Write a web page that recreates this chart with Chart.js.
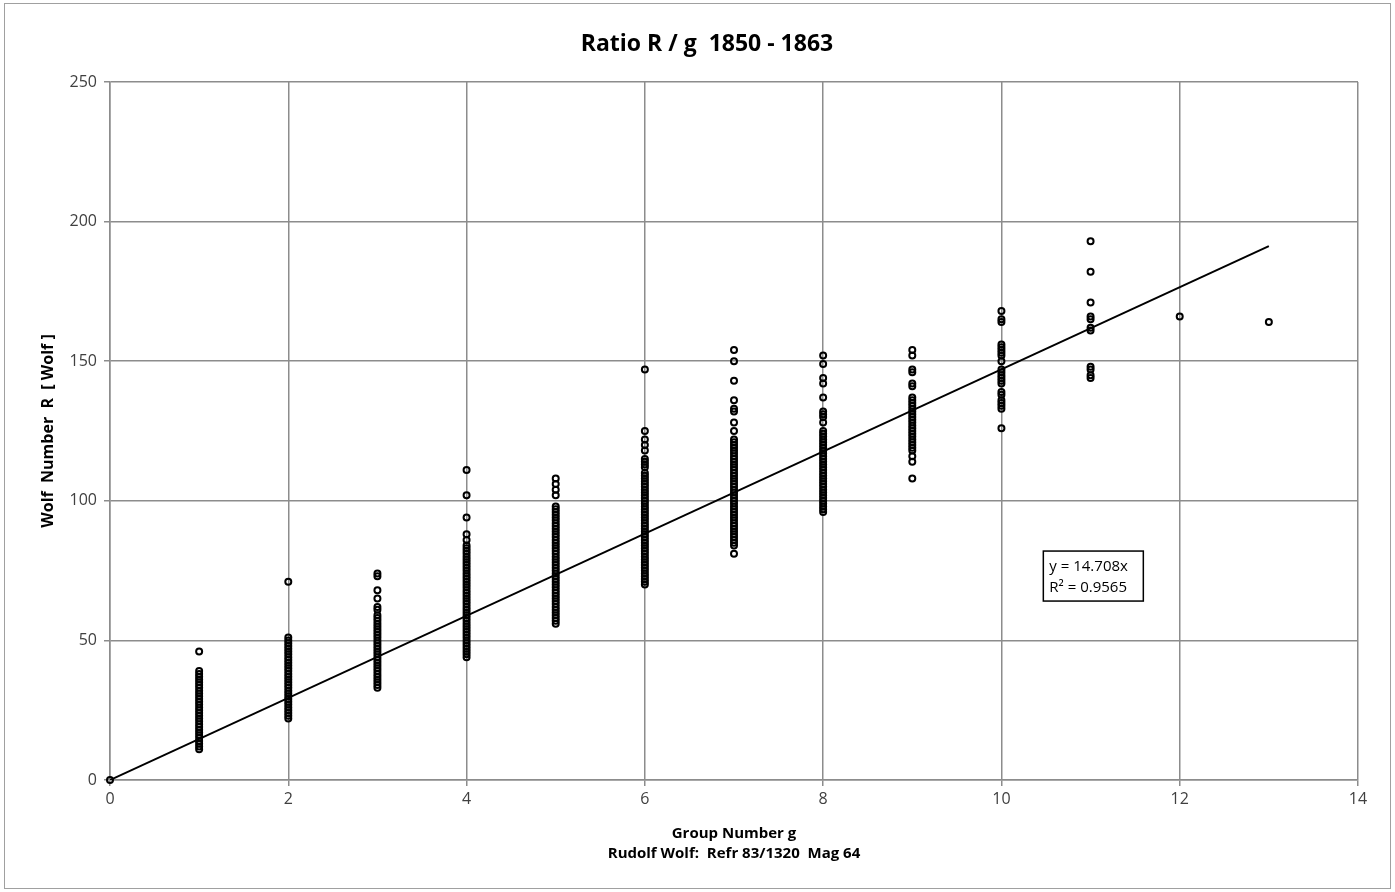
<!DOCTYPE html>
<html>
<head>
<meta charset="utf-8">
<script src="https://cdn.jsdelivr.net/npm/chart.js@4"></script>
<style>
    html, body { margin: 0; padding: 0; background: #fff; }
    #wrap { width: 1395px; height: 892px; }
</style>
</head>
<body>
<div id="wrap"><canvas id="ratioChart" width="1395" height="892"></canvas></div>
<script>
const g0 = [0];
const g1 = [46, 39, 38, 37, 36, 35, 34, 33, 32, 31, 30, 29, 28, 27, 26, 25, 24, 23, 22, 21, 20, 19, 18, 17, 16, 15, 14, 13, 12, 11];
const g2 = [71, 51, 50, 49, 48, 47, 46, 45, 44, 43, 42, 41, 40, 39, 38, 37, 36, 35, 34, 33, 32, 31, 30, 29, 28, 27, 26, 25, 24, 23, 22];
const g3 = [74, 73, 68, 65, 62, 61, 59, 58, 57, 56, 55, 54, 53, 52, 51, 50, 49, 48, 47, 46, 45, 44, 43, 42, 41, 40, 39, 38, 37, 36, 35, 34, 33];
const g4 = [111, 102, 94, 88, 86, 84, 83, 82, 81, 80, 79, 78, 77, 76, 75, 74, 73, 72, 71, 70, 69, 68, 67, 66, 65, 64, 63, 62, 61, 60, 59, 58, 57, 56, 55, 54, 53, 52, 51, 50, 49, 48, 47, 46, 45, 44];
const g5 = [108, 106, 104, 102, 98, 97, 96, 95, 94, 93, 92, 91, 90, 89, 88, 87, 86, 85, 84, 83, 82, 81, 80, 79, 78, 77, 76, 75, 74, 73, 72, 71, 70, 69, 68, 67, 66, 65, 64, 63, 62, 61, 60, 59, 58, 57, 56];
const g6 = [147, 125, 122, 120, 118, 115, 114, 113, 112, 110, 109, 108, 107, 106, 105, 104, 103, 102, 101, 100, 99, 98, 97, 96, 95, 94, 93, 92, 91, 90, 89, 88, 87, 86, 85, 84, 83, 82, 81, 80, 79, 78, 77, 76, 75, 74, 73, 72, 71, 70];
const g7 = [154, 150, 143, 136, 133, 132, 128, 125, 122, 121, 120, 119, 118, 117, 116, 115, 114, 113, 112, 111, 110, 109, 108, 107, 106, 105, 104, 103, 102, 101, 100, 99, 98, 97, 96, 95, 94, 93, 92, 91, 90, 89, 88, 87, 86, 85, 84, 81];
const g8 = [152, 149, 144, 142, 137, 132, 131, 130, 128, 125, 124, 123, 122, 121, 120, 119, 118, 117, 116, 115, 114, 113, 112, 111, 110, 109, 108, 107, 106, 105, 104, 103, 102, 101, 100, 99, 98, 97, 96];
const g9 = [154, 152, 147, 146, 142, 141, 137, 136, 135, 134, 133, 132, 131, 130, 129, 128, 127, 126, 125, 124, 123, 122, 121, 120, 119, 118, 116, 114, 108];
const g10 = [168, 165, 164, 156, 155, 154, 153, 152, 150, 147, 146, 145, 144, 143, 142, 139, 138, 136, 135, 134, 133, 126];
const g11 = [193, 182, 171, 166, 165, 162, 161, 148, 147, 145, 144];
const g12 = [166];
const g13 = [164];

const groups = [g0, g1, g2, g3, g4, g5, g6, g7, g8, g9, g10, g11, g12, g13];

// linear trendline through origin (y = 14.708x), end points as drawn
const trendX = [0, 13];
const trendY = [0, 191.2];

const xTicks = [0, 2, 4, 6, 8, 10, 12, 14];
const yTicks = [0, 50, 100, 150, 200, 250];

const FONT = '"Open Sans", "Noto Sans", sans-serif';

const points = [];
groups.forEach(function(vals, g) {
    vals.forEach(function(v) { points.push({ x: g, y: v }); });
});
const trend = trendX.map(function(x, i) { return { x: x, y: trendY[i] }; });

// frame, title and equation box
const extras = {
    id: 'extras',
    beforeDraw(chart) {
        const ctx = chart.ctx;
        ctx.save();
        ctx.fillStyle = '#fff';
        ctx.fillRect(0, 0, chart.width, chart.height);
        ctx.strokeStyle = '#a0a0a0';
        ctx.lineWidth = 1;
        ctx.strokeRect(4.5, 3.5, chart.width - 9, chart.height - 7);
        ctx.fillStyle = '#000';
        ctx.font = 'bold 23px ' + FONT;
        ctx.textAlign = 'center';
        ctx.textBaseline = 'middle';
        ctx.fillText('Ratio R / g  1850 - 1863', 707, 44);
        ctx.restore();
    },
    afterDraw(chart) {
        const ctx = chart.ctx;
        const xs = chart.scales.x, ys = chart.scales.y;
        const left = xs.getPixelForValue(10.47);
        const top = ys.getPixelForValue(82);
        ctx.save();
        ctx.fillStyle = '#fff';
        ctx.fillRect(left, top, 100, 50);
        ctx.strokeStyle = '#000';
        ctx.lineWidth = 1.5;
        ctx.strokeRect(left, top, 100, 50);
        ctx.fillStyle = '#000';
        ctx.font = '15px ' + FONT;
        ctx.textBaseline = 'middle';
        ctx.textAlign = 'left';
        ctx.fillText('y = 14.708x', left + 6, top + 16);
        ctx.fillText('R\u00B2 = 0.9565', left + 6, top + 37);
        ctx.restore();
    }
};

const ctx = document.getElementById('ratioChart').getContext('2d');
new Chart(ctx, {
    type: 'scatter',
    data: {
        datasets: [{
            label: 'R',
            data: points,
            pointStyle: 'circle',
            pointRadius: 3,
            pointBorderWidth: 2,
            borderColor: '#000',
            backgroundColor: 'rgba(255,255,255,0)',
            clip: false,
            order: 2
        }, {
            label: 'Trend',
            type: 'line',
            data: trend,
            borderColor: '#000',
            borderWidth: 2,
            pointRadius: 0,
            fill: false,
            tension: 0,
            order: 1
        }]
    },
    options: {
        responsive: false,
        animation: false,
        layout: { padding: { left: 0, right: 37, top: 82, bottom: 0 } },
        plugins: {
            legend: { display: false },
            tooltip: { enabled: false },
            title: { display: false }
        },
        scales: {
            x: {
                type: 'linear',
                min: 0,
                max: 14,
                afterBuildTicks: function(axis) { axis.ticks = xTicks.map(function(v) { return { value: v }; }); },
                afterFit: function(axis) { axis.height = 112; },
                ticks: { color: '#404040', font: { family: FONT, size: 16 }, padding: 4, maxRotation: 0 },
                grid: { color: '#8c8c8c', lineWidth: 1.5, tickLength: 6, drawTicks: true },
                border: { color: '#8c8c8c', width: 1.5 },
                title: {
                    display: true,
                    text: ['Group Number g', 'Rudolf Wolf:  Refr 83/1320  Mag 64'],
                    color: '#000',
                    font: { family: FONT, size: 15, weight: 'bold', lineHeight: 1.3 },
                    padding: { top: 0, bottom: 29 }
                }
            },
            y: {
                type: 'linear',
                min: 0,
                max: 250,
                afterBuildTicks: function(axis) { axis.ticks = yTicks.map(function(v) { return { value: v }; }); },
                afterFit: function(axis) { axis.width = 110; },
                ticks: { color: '#404040', font: { family: FONT, size: 16 }, padding: 7 },
                grid: { color: '#8c8c8c', lineWidth: 1.5, tickLength: 6, drawTicks: true },
                border: { color: '#8c8c8c', width: 1.5 },
                title: {
                    display: true,
                    text: 'Wolf  Number  R  [ Wolf ]',
                    color: '#000',
                    font: { family: FONT, size: 16, weight: 'bold', lineHeight: 1.3 },
                    padding: { top: 38, bottom: 0 }
                }
            }
        }
    },
    plugins: [extras]
});
</script>
</body>
</html>
